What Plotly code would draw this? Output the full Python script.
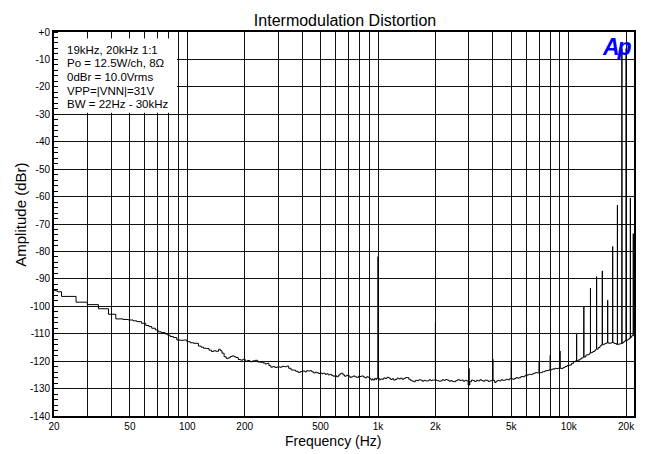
import math
import plotly.graph_objects as go

# ---------------- data ----------------
floor_freq = [
    20, 20.8, 21.9, 26.1, 29.9, 34.2, 38.6, 42.2, 46.0, 49.1, 52.0, 54.3, 57.5, 60.6, 63.0, 65.1,
    68.0, 70.3, 73.0, 76.5, 79.0, 81.2, 84.5, 88.1, 92.0, 95.5, 99.5, 103.5, 108, 114.4, 118, 121.6,
    126, 130, 134, 137.5, 141, 145.8, 149, 152, 156, 160, 164, 168, 172, 176, 180, 185, 190, 196,
    201, 207, 213, 220, 227, 234, 242, 250, 256, 262, 268, 274, 280, 288, 296, 306, 314, 322, 332,
    340, 350, 360, 370, 381, 392, 405, 414, 422, 432, 440, 450, 460, 470, 477, 487, 497, 507, 517,
    528, 538, 548, 559, 570, 582, 594, 606, 620, 632, 643, 655, 668, 682, 697, 712, 727, 742, 756,
    772, 790, 805, 820, 838, 855, 872, 889, 905, 920, 932, 945, 960, 975, 985,
    1015, 1031, 1052, 1072, 1092, 1114, 1141, 1165, 1187, 1208, 1235, 1260, 1285, 1310, 1338, 1365,
    1392, 1420, 1450, 1480, 1510, 1540, 1570, 1600, 1635, 1670, 1705, 1740, 1775, 1811, 1850, 1890,
    1925, 1963,
    2040, 2085, 2128, 2170, 2215, 2260, 2308, 2355, 2405, 2450, 2502, 2555, 2610, 2680, 2746, 2800,
    2860, 2913, 2970,
    3030, 3090, 3150, 3210, 3280, 3350, 3420, 3490, 3560, 3632, 3700, 3780, 3853, 3930,
    4088, 4160, 4250, 4335, 4420, 4510, 4598, 4700, 4800, 4900,
    5082, 5200, 5300, 5400, 5511, 5620, 5750, 5880,
    6053, 6200, 6300, 6421, 6550, 6690, 6850,
    7097, 7250, 7380, 7528, 7700, 7850, 7950,
    8100, 8250, 8350, 8470, 8600, 8800,
    9150, 9350, 9550, 9800, 10100, 10350, 10600, 10850,
    11200, 11450, 11700, 11900,
    12300, 12500, 12700, 12900,
    13200, 13400, 13700, 13900,
    14300, 14600, 14850,
    15250, 15500, 15800,
    16250, 16500, 16800,
    17250, 17500, 17800,
    18250, 18500, 18800,
    19250, 19500, 19800,
    20250, 20500, 20800,
    21200, 21400, 21600,
    21900, 22000,
]
floor_db = [
    -94.3, -94.7, -96.4, -98.5, -99.4, -100.9, -102.9, -104.6, -104.8, -105.0, -105.3, -105.6, -106.2, -107.0, -107.4, -108.0,
    -108.6, -109.3, -109.6, -110.1, -110.5, -111.0, -111.4, -112.3, -112.4, -112.3, -112.9, -113.3, -113.5, -114.5, -114.9, -115.3,
    -115.4, -116.0, -116.5, -116.2, -116.4, -115.7, -116.2, -117.1, -118.4, -119.0, -118.8, -118.3, -118.1, -118.4, -118.7, -119.4, -119.6, -119.3,
    -120.0, -119.8, -120.2, -119.9, -119.7, -120.3, -120.4, -120.7, -121.0, -120.8, -121.6, -122.2, -122.0, -122.3, -122.1, -122.2, -121.9, -122.0, -121.8,
    -122.6, -123.2, -123.3, -123.7, -124.1, -123.8, -123.6, -123.9, -123.5, -123.6, -123.5, -123.9, -124.3, -124.0, -124.2, -124.5, -124.3, -124.6, -124.4,
    -124.8, -124.6, -125.0, -124.8, -125.2, -125.5, -125.3, -125.7, -125.1, -124.6, -124.4, -125.0, -125.5, -125.2, -125.4, -125.9, -125.7, -125.4, -125.7,
    -125.9, -125.5, -125.6, -125.4, -125.8, -126.1, -125.7, -125.9, -126.4, -126.9, -126.5, -126.9, -126.3, -126.7, -126.2,
    -126.8, -126.5, -126.6, -126.1, -126.3, -125.9, -126.2, -126.7, -126.4, -126.9, -126.6, -126.2, -126.5, -126.2, -126.6, -126.3,
    -126.0, -126.0, -126.6, -127.0, -127.3, -127.5, -127.0, -127.1, -126.8, -126.9, -127.3, -127.0, -127.2, -127.2, -126.8, -127.1,
    -126.9, -126.9,
    -127.1, -127.3, -127.2, -126.8, -127.0, -126.7, -126.9, -127.3, -127.1, -127.4, -127.5, -127.1, -126.8, -127.0, -126.9, -127.3,
    -127.0, -127.2, -128.7,
    -127.5, -126.9, -127.1, -127.4, -127.0, -127.2, -126.8, -127.1, -127.3, -126.9, -127.0, -127.4, -127.2, -127.0,
    -127.8, -127.3, -127.0, -127.2, -126.8, -127.0, -126.9, -126.6, -126.8, -126.4,
    -126.6, -126.3, -126.0, -126.2, -126.0, -125.6, -125.7, -125.3,
    -125.0, -124.8, -124.9, -124.7, -124.4, -124.2, -124.3,
    -124.2, -123.9, -123.8, -123.5, -123.4, -123.2, -123.3,
    -123.0, -122.8, -122.9, -122.6, -122.7, -122.6,
    -122.7, -122.3, -122.0, -121.6, -121.4, -120.8, -120.2, -119.9,
    -119.6, -119.2, -118.8, -118.5,
    -117.8, -117.7, -117.5, -117.0,
    -116.8, -116.5, -116.0, -115.6,
    -115.0, -114.4, -114.0,
    -113.8, -113.6, -113.3,
    -113.5, -113.4, -113.2,
    -113.5, -113.6, -113.9,
    -113.8, -113.7, -113.5,
    -113.2, -112.8, -112.5,
    -112.3, -112.0, -111.6,
    -111.2, -110.8, -110.6,
    -110.4, -110.2,
]

spike_freq = [1000, 2000, 3000, 4000, 5000, 6000, 7000, 8000, 9000, 11000, 12000, 13000,
              14000, 15000, 16000, 17000, 18000, 19000, 20000, 21050, 21800]
spike_db = [-81.9, -105.9, -122.7, -119.3, -120.2, -120.3, -120.2, -117.9, -116.3, -110.2, -100.2, -93.4,
            -89.2, -87.1, -97.8, -78.2, -63.1, -6.0, -6.0, -60.5, -73.5]

x_tick_vals = [20, 30, 40, 50, 60, 70, 80, 90, 100, 200, 300, 400, 500, 600, 700, 800, 900,
               1000, 2000, 3000, 4000, 5000, 6000, 7000, 8000, 9000, 10000, 20000]
x_tick_text = ["20", "", "", "50", "", "", "", "", "100", "200", "", "", "500", "", "", "", "",
               "1k", "2k", "", "", "5k", "", "", "", "", "10k", "20k"]
y_tick_vals = [-140, -130, -120, -110, -100, -90, -80, -70, -60, -50, -40, -30, -20, -10, 0]
y_tick_text = ["-140", "-130", "-120", "-110", "-100", "-90", "-80", "-70", "-60", "-50",
               "-40", "-30", "-20", "-10", "+0"]

note_lines = ["19kHz, 20kHz 1:1", "Po = 12.5W/ch, 8\u03a9", "0dBr = 10.0Vrms",
              "VPP=|VNN|=31V", "BW = 22Hz - 30kHz"]

# ---------------- merge floor with the spectral lines ----------------
pts = list(zip(floor_freq, floor_db))
for f, v in zip(spike_freq, spike_db):
    prev = [p for p in zip(floor_freq, floor_db) if p[0] < f]
    base = prev[-1][1]
    pts.append((f, v))
    pts.append((f * 1.001, base))
pts.sort(key=lambda p: p[0])
xs = [p[0] for p in pts]
ys = [p[1] for p in pts]

FONT = "Liberation Sans, Arial, Helvetica, sans-serif"

fig = go.Figure()
fig.add_trace(go.Scatter(x=xs, y=ys, mode="lines",
                         line=dict(color="black", width=1, shape="hv"),
                         showlegend=False, hoverinfo="skip"))

# page body adds an 8px margin, so the figure is 8px smaller than the window
fig.update_layout(
    width=646, height=446,
    margin=dict(l=46, r=20, t=24, b=38),
    paper_bgcolor="white", plot_bgcolor="white",
    font=dict(family=FONT, color="black", size=10),
    title=dict(text="Intermodulation Distortion", x=0.5217, xanchor="center",
               y=0.973, yanchor="middle", font=dict(size=16, family=FONT, color="black")),
    showlegend=False,
)
fig.update_xaxes(
    type="log", range=[math.log10(20), math.log10(22000)],
    tickmode="array", tickvals=x_tick_vals, ticktext=x_tick_text,
    showgrid=True, gridcolor="#111111", gridwidth=1,
    showline=True, linecolor="black", linewidth=2, mirror=True,
    ticks="", tickfont=dict(size=10, family=FONT, color="black"), zeroline=False,
)
fig.update_yaxes(
    range=[-140, 0], tickmode="array", tickvals=y_tick_vals, ticktext=y_tick_text,
    showgrid=True, gridcolor="#111111", gridwidth=1,
    showline=True, linecolor="black", linewidth=2, mirror=True,
    ticks="", tickfont=dict(size=10, family=FONT, color="black"), zeroline=False,
    minor=dict(tickmode="linear", tick0=0, dtick=2, ticks="inside", ticklen=4,
               tickcolor="black", tickwidth=1, showgrid=False),
)

# axis titles
fig.add_annotation(text="Frequency (Hz)", xref="paper", yref="paper", x=0.481, y=-0.065,
                   xanchor="center", yanchor="middle", showarrow=False,
                   font=dict(size=14, family=FONT, color="black"))
fig.add_annotation(text="Amplitude (dBr)", xref="paper", yref="paper", x=-0.057, y=0.524,
                   xanchor="center", yanchor="middle", textangle=-90, showarrow=False,
                   font=dict(size=15, family=FONT, color="black"))

# note box: white panel over the grid (no data there), then one annotation per line
fig.add_shape(type="rect", xref="paper", yref="paper", x0=0.0069, x1=0.212, y0=0.79, y1=0.983,
              fillcolor="white", line=dict(width=0), layer="above")
note_y = [0.954, 0.9185, 0.883, 0.8475, 0.812]
for txt, yy in zip(note_lines, note_y):
    fig.add_annotation(text=txt, xref="paper", yref="paper", x=0.0205, y=yy,
                       xanchor="left", yanchor="middle", align="left", showarrow=False,
                       borderpad=0, font=dict(size=11.5, family=FONT, color="black"))

# Ap logo
fig.add_annotation(text="<span style='letter-spacing:-2px'><b><i>Ap</i></b></span>",
                   xref="paper", yref="paper",
                   x=0.9985, y=0.961, xanchor="right", yanchor="middle",
                   showarrow=False, borderpad=0,
                   font=dict(size=23, family=FONT, color="#0000ff"))

fig.write_html("out.html")
